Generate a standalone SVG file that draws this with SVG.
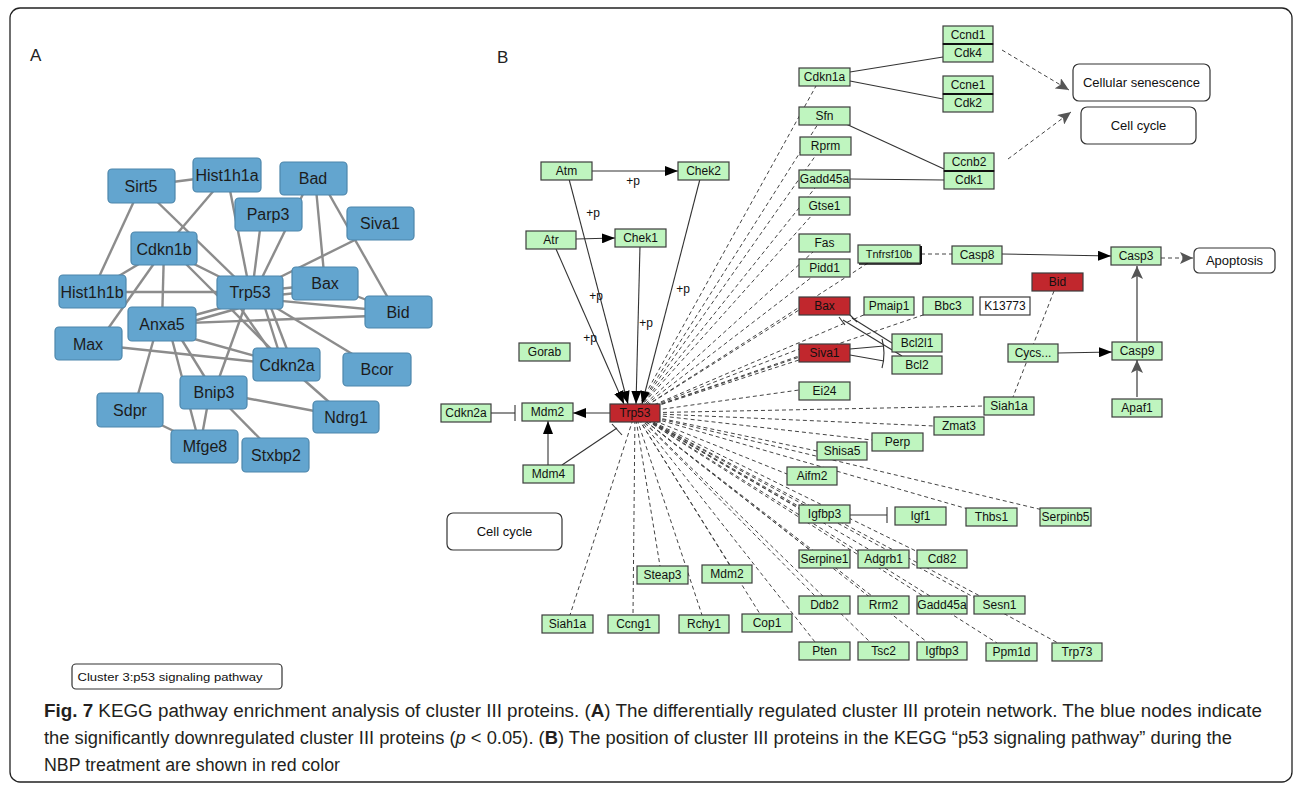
<svg xmlns="http://www.w3.org/2000/svg" width="1295" height="785" viewBox="0 0 1295 785">
<style>
.frame{fill:#fff;stroke:#222;stroke-width:1.3}
.pa rect{fill:#63a5cf;stroke:#4d86ab;stroke-width:1.2}
.pa text{font-family:"Liberation Sans",Arial,sans-serif;font-size:16px;fill:#1c1c1c;text-anchor:middle;dominant-baseline:central}
.ea line{stroke:#8c8c8c;stroke-width:2.4}
.n rect{fill:#bff5bf;stroke:#3c3c3c;stroke-width:1.2}
.n.red rect{fill:#c1272d}
.n.wh rect{fill:#fff}
.n text,.lbl{font-family:"Liberation Sans",Arial,sans-serif;font-size:12px;fill:#111;text-anchor:middle;dominant-baseline:central}
.box rect{fill:#fff;stroke:#333;stroke-width:1.2}
.box text{font-family:"Liberation Sans",Arial,sans-serif;font-size:13px;fill:#111;text-anchor:middle;dominant-baseline:central}
.d{stroke:#444;stroke-width:1;stroke-dasharray:4 3;fill:none}
.s{stroke:#333;stroke-width:1.1;fill:none}
.sg{stroke:#555;stroke-width:1.4;fill:none}
.cap{font-family:"Liberation Sans",Arial,sans-serif;font-size:18px;fill:#231f20}
</style>
<defs>
<marker id="ab" markerUnits="userSpaceOnUse" markerWidth="14" markerHeight="10" refX="13" refY="5" orient="auto"><path d="M0,0 L13,5 L0,10 z" fill="#000"/></marker>
<marker id="ag" markerUnits="userSpaceOnUse" markerWidth="14" markerHeight="12" refX="13" refY="6" orient="auto"><path d="M0,0 L13,6 L0,12 L3,6 z" fill="#555"/></marker>
</defs>
<rect class="frame" x="10" y="8" width="1282" height="774" rx="10"/>
<text x="30" y="61" font-family="Liberation Sans,Arial,sans-serif" font-size="17" fill="#222">A</text>
<text x="497" y="63" font-family="Liberation Sans,Arial,sans-serif" font-size="17" fill="#222">B</text>

<!-- Panel A edges -->
<g id="edges-A" class="ea">
<line x1="141" y1="186" x2="227" y2="175"/>
<line x1="141" y1="186" x2="92" y2="292"/>
<line x1="141" y1="186" x2="250" y2="292"/>
<line x1="227" y1="175" x2="164" y2="249"/>
<line x1="227" y1="175" x2="250" y2="292"/>
<line x1="305" y1="190" x2="255" y2="292"/>
<line x1="262" y1="214" x2="252" y2="292"/>
<line x1="315" y1="178" x2="325" y2="284"/>
<line x1="320" y1="178" x2="392" y2="305"/>
<line x1="375" y1="230" x2="250" y2="292"/>
<line x1="325" y1="284" x2="250" y2="292"/>
<line x1="325" y1="290" x2="250" y2="298"/>
<line x1="325" y1="284" x2="398" y2="312"/>
<line x1="250" y1="298" x2="398" y2="312"/>
<line x1="162" y1="324" x2="398" y2="315"/>
<line x1="164" y1="249" x2="92" y2="292"/>
<line x1="160" y1="255" x2="100" y2="340"/>
<line x1="164" y1="249" x2="162" y2="324"/>
<line x1="164" y1="249" x2="250" y2="292"/>
<line x1="180" y1="258" x2="287" y2="365"/>
<line x1="92" y1="292" x2="250" y2="292"/>
<line x1="162" y1="324" x2="250" y2="300"/>
<line x1="162" y1="330" x2="250" y2="305"/>
<line x1="88" y1="344" x2="287" y2="365"/>
<line x1="162" y1="330" x2="287" y2="365"/>
<line x1="158" y1="324" x2="135" y2="405"/>
<line x1="168" y1="324" x2="200" y2="446"/>
<line x1="172" y1="324" x2="214" y2="392"/>
<line x1="250" y1="292" x2="214" y2="392"/>
<line x1="260" y1="292" x2="283" y2="365"/>
<line x1="265" y1="292" x2="293" y2="365"/>
<line x1="235" y1="300" x2="280" y2="365"/>
<line x1="250" y1="292" x2="377" y2="369"/>
<line x1="287" y1="365" x2="346" y2="417"/>
<line x1="214" y1="392" x2="346" y2="417"/>
<line x1="210" y1="392" x2="200" y2="446"/>
<line x1="214" y1="392" x2="276" y2="455"/>
<line x1="130" y1="410" x2="205" y2="446"/>
</g>
<g class="pa">
<g id="a-sirt5"><rect x="108" y="169" width="67" height="34" rx="4"/><text x="141" y="186">Sirt5</text></g>
<g id="a-hist1h1a"><rect x="193" y="158" width="68" height="34" rx="4"/><text x="227" y="175">Hist1h1a</text></g>
<g id="a-bad"><rect x="280" y="162" width="67" height="33" rx="4"/><text x="313" y="178">Bad</text></g>
<g id="a-parp3"><rect x="235" y="198" width="67" height="33" rx="4"/><text x="268" y="214">Parp3</text></g>
<g id="a-siva1"><rect x="347" y="207" width="67" height="33" rx="4"/><text x="380" y="223">Siva1</text></g>
<g id="a-cdkn1b"><rect x="131" y="232" width="66" height="33" rx="4"/><text x="164" y="249">Cdkn1b</text></g>
<g id="a-hist1h1b"><rect x="59" y="275" width="67" height="33" rx="4"/><text x="92" y="292">Hist1h1b</text></g>
<g id="a-trp53"><rect x="217" y="276" width="66" height="33" rx="4"/><text x="250" y="292">Trp53</text></g>
<g id="a-bax"><rect x="292" y="267" width="66" height="33" rx="4"/><text x="325" y="283">Bax</text></g>
<g id="a-bid"><rect x="365" y="296" width="67" height="32" rx="4"/><text x="398" y="312">Bid</text></g>
<g id="a-anxa5"><rect x="128" y="307" width="68" height="34" rx="4"/><text x="162" y="324">Anxa5</text></g>
<g id="a-max"><rect x="55" y="327" width="67" height="33" rx="4"/><text x="88" y="344">Max</text></g>
<g id="a-cdkn2a"><rect x="253" y="348" width="67" height="33" rx="4"/><text x="287" y="365">Cdkn2a</text></g>
<g id="a-bcor"><rect x="343" y="353" width="68" height="33" rx="4"/><text x="377" y="369">Bcor</text></g>
<g id="a-bnip3"><rect x="180" y="376" width="67" height="33" rx="4"/><text x="214" y="392">Bnip3</text></g>
<g id="a-sdpr"><rect x="97" y="393" width="66" height="34" rx="4"/><text x="130" y="410">Sdpr</text></g>
<g id="a-ndrg1"><rect x="313" y="401" width="66" height="32" rx="4"/><text x="346" y="417">Ndrg1</text></g>
<g id="a-mfge8"><rect x="171" y="430" width="67" height="33" rx="4"/><text x="205" y="446">Mfge8</text></g>
<g id="a-stxbp2"><rect x="242" y="438" width="67" height="34" rx="4"/><text x="276" y="455">Stxbp2</text></g>
</g>

<!-- Panel B connectors -->
<g id="edges-B">
<g id="trp53-dashes">
<line class="d" x1="635" y1="413" x2="816" y2="86"/>
<line class="d" x1="635" y1="413" x2="818" y2="124"/>
<line class="d" x1="635" y1="413" x2="816" y2="155"/>
<line class="d" x1="635" y1="413" x2="815" y2="188"/>
<line class="d" x1="635" y1="413" x2="813" y2="214"/>
<line class="d" x1="635" y1="413" x2="813" y2="252"/>
<line class="d" x1="635" y1="413" x2="812" y2="277"/>
<line class="d" x1="635" y1="413" x2="868" y2="263"/>
<line class="d" x1="635" y1="413" x2="799" y2="310"/>
<line class="d" x1="635" y1="413" x2="866" y2="314"/>
<line class="d" x1="635" y1="413" x2="926" y2="314"/>
<line class="d" x1="635" y1="413" x2="799" y2="349"/>
<line class="d" x1="635" y1="413" x2="799" y2="356"/>
<line class="d" x1="635" y1="413" x2="799" y2="360"/>
<line class="d" x1="635" y1="413" x2="799" y2="390"/>
<line class="d" x1="635" y1="413" x2="984" y2="406"/>
<line class="d" x1="635" y1="413" x2="934" y2="426"/>
<line class="d" x1="635" y1="413" x2="872" y2="440"/>
<line class="d" x1="635" y1="413" x2="817" y2="451"/>
<line class="d" x1="635" y1="413" x2="787" y2="474"/>
<line class="d" x1="635" y1="413" x2="968" y2="509"/>
<line class="d" x1="635" y1="413" x2="1043" y2="510"/>
<line class="d" x1="635" y1="413" x2="800" y2="507"/>
<line class="d" x1="635" y1="413" x2="806" y2="512"/>
<line class="d" x1="635" y1="413" x2="810" y2="550"/>
<line class="d" x1="635" y1="413" x2="870" y2="550"/>
<line class="d" x1="635" y1="413" x2="920" y2="553"/>
<line class="d" x1="635" y1="413" x2="815" y2="596"/>
<line class="d" x1="635" y1="413" x2="872" y2="596"/>
<line class="d" x1="635" y1="413" x2="930" y2="596"/>
<line class="d" x1="635" y1="413" x2="980" y2="596"/>
<line class="d" x1="635" y1="413" x2="815" y2="642"/>
<line class="d" x1="635" y1="413" x2="870" y2="642"/>
<line class="d" x1="635" y1="413" x2="927" y2="642"/>
<line class="d" x1="635" y1="413" x2="997" y2="643"/>
<line class="d" x1="635" y1="413" x2="1058" y2="643"/>
<line class="d" x1="635" y1="413" x2="660" y2="566"/>
<line class="d" x1="635" y1="413" x2="730" y2="565"/>
<line class="d" x1="635" y1="413" x2="570" y2="615"/>
<line class="d" x1="635" y1="413" x2="633" y2="615"/>
<line class="d" x1="635" y1="413" x2="702" y2="615"/>
<line class="d" x1="635" y1="413" x2="760" y2="614"/>
</g>
<!-- upstream kinases -->
<line class="s" x1="592" y1="171" x2="678" y2="171" marker-end="url(#ab)"/>
<line class="s" x1="576" y1="239" x2="615" y2="238" marker-end="url(#ab)"/>
<line class="s" x1="569" y1="179" x2="628" y2="404" marker-end="url(#ab)"/>
<line class="s" x1="556" y1="249" x2="624" y2="404" marker-end="url(#ab)"/>
<line class="s" x1="640" y1="246" x2="636" y2="404" marker-end="url(#ab)"/>
<line class="s" x1="700" y1="179" x2="642" y2="404" marker-end="url(#ab)"/>
<!-- Mdm2 module -->
<line class="s" x1="610" y1="413" x2="573" y2="413" marker-end="url(#ab)"/>
<line class="s" x1="491" y1="413" x2="515" y2="413"/>
<line class="s" x1="515" y1="405" x2="515" y2="421" stroke-width="1.6"/>
<line class="s" x1="548" y1="465" x2="548" y2="421" marker-end="url(#ab)"/>
<line class="s" x1="562" y1="465" x2="617" y2="428"/>
<line class="s" x1="612" y1="424" x2="622" y2="435" stroke-width="1.6"/>
<!-- cell cycle complexes -->
<line class="s" x1="850" y1="72" x2="943" y2="57"/>
<line class="s" x1="850" y1="81" x2="943" y2="99"/>
<line class="s" x1="846" y1="124" x2="944" y2="169"/>
<line class="s" x1="850" y1="179" x2="944" y2="180"/>
<line class="d" x1="1002" y1="50" x2="1069" y2="90" stroke="#555" marker-end="url(#ag)"/>
<line class="d" x1="1008" y1="159" x2="1071" y2="112" stroke="#555" marker-end="url(#ag)"/>
<!-- apoptosis -->
<line class="d" x1="921" y1="254" x2="952" y2="254"/>
<line class="s" x1="1002" y1="254" x2="1111" y2="256" marker-end="url(#ab)"/>
<line class="d" x1="1161" y1="258" x2="1193" y2="258" stroke="#555" marker-end="url(#ag)"/>
<line class="sg" x1="1137" y1="341" x2="1137" y2="266" marker-end="url(#ag)"/>
<line class="sg" x1="1137" y1="397" x2="1137" y2="360" marker-end="url(#ag)"/>
<line class="s" x1="1058" y1="353" x2="1112" y2="352" marker-end="url(#ab)"/>
<line class="d" x1="1054" y1="291" x2="1013" y2="397"/>
<line class="s" x1="892" y1="343" x2="852" y2="318"/>
<line class="s" x1="902" y1="356" x2="843" y2="320"/>
<line class="s" x1="847" y1="312" x2="857" y2="322" stroke-width="1.5"/>
<line class="s" x1="839" y1="317" x2="845" y2="325" stroke-width="1.5"/>
<line class="s" x1="850" y1="349" x2="884" y2="346"/>
<line class="s" x1="850" y1="355" x2="884" y2="361"/>
<path class="s" d="M882,339 Q886,353 882,368" stroke-width="1.5"/>
<line class="s" x1="850" y1="515" x2="887" y2="515"/>
<line class="s" x1="887" y1="507" x2="887" y2="523" stroke-width="1.6"/>
</g>
<g id="plabels">
<text class="lbl" x="633" y="181">+p</text>
<text class="lbl" x="593" y="213">+p</text>
<text class="lbl" x="596" y="296">+p</text>
<text class="lbl" x="590" y="338">+p</text>
<text class="lbl" x="646" y="323">+p</text>
<text class="lbl" x="683" y="289">+p</text>
</g>

<!-- Panel B nodes -->
<g class="n" id="b-atm"><rect x="541" y="162" width="51" height="18"/><text x="566.5" y="171">Atm</text></g>
<g class="n" id="b-chek2"><rect x="678" y="162" width="51" height="18"/><text x="703.5" y="171">Chek2</text></g>
<g class="n" id="b-atr"><rect x="526" y="231" width="50" height="18"/><text x="551" y="240">Atr</text></g>
<g class="n" id="b-chek1"><rect x="615" y="229" width="51" height="18"/><text x="640.5" y="238">Chek1</text></g>
<g class="n" id="b-gorab"><rect x="519" y="343" width="51" height="18"/><text x="544.5" y="352">Gorab</text></g>
<g class="n" id="b-cdkn2a"><rect x="441" y="404" width="50" height="18"/><text x="466" y="413">Cdkn2a</text></g>
<g class="n" id="b-mdm2"><rect x="522" y="403" width="51" height="18"/><text x="547.5" y="412">Mdm2</text></g>
<g class="n red" id="b-trp53"><rect x="610" y="404" width="50" height="18"/><text x="635" y="413">Trp53</text></g>
<g class="n" id="b-mdm4"><rect x="523" y="465" width="51" height="18"/><text x="548.5" y="474">Mdm4</text></g>
<g class="n" id="b-ccnd1-cdk4"><rect x="943" y="26" width="50" height="18"/><text x="968" y="35">Ccnd1</text><rect x="943" y="44" width="50" height="18"/><text x="968" y="53">Cdk4</text><line x1="943" y1="44" x2="993" y2="44" stroke="#111" stroke-width="2"/></g>
<g class="n" id="b-ccne1-cdk2"><rect x="943" y="76" width="50" height="18"/><text x="968" y="85">Ccne1</text><rect x="943" y="94" width="50" height="18"/><text x="968" y="103">Cdk2</text><line x1="943" y1="94" x2="993" y2="94" stroke="#111" stroke-width="2"/></g>
<g class="n" id="b-ccnb2-cdk1"><rect x="944" y="153" width="50" height="18"/><text x="969" y="162">Ccnb2</text><rect x="944" y="171" width="50" height="18"/><text x="969" y="180">Cdk1</text><line x1="944" y1="171" x2="994" y2="171" stroke="#111" stroke-width="2"/></g>
<g class="n" id="b-cdkn1a"><rect x="799" y="68" width="51" height="18"/><text x="824.5" y="77">Cdkn1a</text></g>
<g class="n" id="b-sfn"><rect x="799" y="107" width="51" height="18"/><text x="824.5" y="116">Sfn</text></g>
<g class="n" id="b-rprm"><rect x="800" y="137" width="51" height="18"/><text x="825.5" y="146">Rprm</text></g>
<g class="n" id="b-gadd45a-1"><rect x="799" y="170" width="51" height="18"/><text x="824.5" y="179">Gadd45a</text></g>
<g class="n" id="b-gtse1"><rect x="799" y="197" width="51" height="18"/><text x="824.5" y="206">Gtse1</text></g>
<g class="n" id="b-fas"><rect x="799" y="234" width="51" height="18"/><text x="824.5" y="243">Fas</text></g>
<g class="n" id="b-pidd1"><rect x="799" y="259" width="51" height="18"/><text x="824.5" y="268">Pidd1</text></g>
<g class="n" id="b-tnfrsf10b"><rect x="858" y="245" width="62" height="18"/><line x1="921" y1="246" x2="921" y2="264" stroke="#111" stroke-width="2"/><line x1="859" y1="264" x2="921" y2="264" stroke="#111" stroke-width="1.5"/><text x="889" y="254" style="font-size:11px">Tnfrsf10b</text></g>
<g class="n" id="b-casp8"><rect x="952" y="246" width="50" height="18"/><text x="977" y="255">Casp8</text></g>
<g class="n" id="b-casp3"><rect x="1111" y="247" width="50" height="18"/><text x="1136" y="256">Casp3</text></g>
<g class="n red" id="b-bid"><rect x="1032" y="273" width="51" height="18"/><text x="1057.5" y="282">Bid</text></g>
<g class="n red" id="b-bax"><rect x="799" y="297" width="51" height="18"/><text x="824.5" y="306">Bax</text></g>
<g class="n" id="b-pmaip1"><rect x="864" y="297" width="50" height="18"/><text x="889" y="306">Pmaip1</text></g>
<g class="n" id="b-bbc3"><rect x="923" y="297" width="50" height="18"/><text x="948" y="306">Bbc3</text></g>
<g class="n wh" id="b-k13773"><rect x="980" y="297" width="50" height="18"/><text x="1005" y="306">K13773</text></g>
<g class="n" id="b-bcl2l1"><rect x="892" y="334" width="50" height="18"/><text x="917" y="343">Bcl2l1</text></g>
<g class="n" id="b-bcl2"><rect x="892" y="356" width="50" height="18"/><text x="917" y="365">Bcl2</text></g>
<g class="n red" id="b-siva1"><rect x="799" y="344" width="51" height="18"/><text x="824.5" y="353">Siva1</text></g>
<g class="n" id="b-cycs"><rect x="1008" y="344" width="50" height="18"/><text x="1033" y="353">Cycs...</text></g>
<g class="n" id="b-casp9"><rect x="1112" y="342" width="50" height="18"/><text x="1137" y="351">Casp9</text></g>
<g class="n" id="b-ei24"><rect x="799" y="382" width="51" height="18"/><text x="824.5" y="391">Ei24</text></g>
<g class="n" id="b-siah1a-1"><rect x="984" y="397" width="50" height="18"/><text x="1009" y="406">Siah1a</text></g>
<g class="n" id="b-apaf1"><rect x="1112" y="399" width="50" height="18"/><text x="1137" y="408">Apaf1</text></g>
<g class="n" id="b-zmat3"><rect x="934" y="417" width="50" height="18"/><text x="959" y="426">Zmat3</text></g>
<g class="n" id="b-perp"><rect x="872" y="433" width="51" height="18"/><text x="897.5" y="442">Perp</text></g>
<g class="n" id="b-shisa5"><rect x="817" y="442" width="50" height="18"/><text x="842" y="451">Shisa5</text></g>
<g class="n" id="b-aifm2"><rect x="787" y="467" width="50" height="18"/><text x="812" y="476">Aifm2</text></g>
<g class="n" id="b-igfbp3-1"><rect x="799" y="505" width="51" height="18"/><text x="824.5" y="514">Igfbp3</text></g>
<g class="n" id="b-igf1"><rect x="895" y="507" width="51" height="18"/><text x="920.5" y="516">Igf1</text></g>
<g class="n" id="b-thbs1"><rect x="966" y="508" width="51" height="18"/><text x="991.5" y="517">Thbs1</text></g>
<g class="n" id="b-serpinb5"><rect x="1040" y="508" width="51" height="18"/><text x="1065.5" y="517">Serpinb5</text></g>
<g class="n" id="b-serpine1"><rect x="799" y="550" width="51" height="18"/><text x="824.5" y="559">Serpine1</text></g>
<g class="n" id="b-adgrb1"><rect x="858" y="550" width="51" height="18"/><text x="883.5" y="559">Adgrb1</text></g>
<g class="n" id="b-cd82"><rect x="917" y="550" width="50" height="18"/><text x="942" y="559">Cd82</text></g>
<g class="n" id="b-ddb2"><rect x="799" y="596" width="51" height="18"/><text x="824.5" y="605">Ddb2</text></g>
<g class="n" id="b-rrm2"><rect x="858" y="596" width="51" height="18"/><text x="883.5" y="605">Rrm2</text></g>
<g class="n" id="b-gadd45a-2"><rect x="917" y="596" width="50" height="18"/><text x="942" y="605">Gadd45a</text></g>
<g class="n" id="b-sesn1"><rect x="974" y="596" width="51" height="18"/><text x="999.5" y="605">Sesn1</text></g>
<g class="n" id="b-pten"><rect x="799" y="642" width="51" height="18"/><text x="824.5" y="651">Pten</text></g>
<g class="n" id="b-tsc2"><rect x="858" y="642" width="51" height="18"/><text x="883.5" y="651">Tsc2</text></g>
<g class="n" id="b-igfbp3-2"><rect x="917" y="642" width="50" height="18"/><text x="942" y="651">Igfbp3</text></g>
<g class="n" id="b-ppm1d"><rect x="986" y="643" width="51" height="18"/><text x="1011.5" y="652">Ppm1d</text></g>
<g class="n" id="b-trp73"><rect x="1052" y="643" width="50" height="18"/><text x="1077" y="652">Trp73</text></g>
<g class="n" id="b-steap3"><rect x="637" y="566" width="51" height="18"/><text x="662.5" y="575">Steap3</text></g>
<g class="n" id="b-mdm2-2"><rect x="702" y="565" width="50" height="18"/><text x="727" y="574">Mdm2</text></g>
<g class="n" id="b-siah1a-2"><rect x="542" y="615" width="51" height="18"/><text x="567.5" y="624">Siah1a</text></g>
<g class="n" id="b-ccng1"><rect x="608" y="615" width="51" height="18"/><text x="633.5" y="624">Ccng1</text></g>
<g class="n" id="b-rchy1"><rect x="679" y="615" width="50" height="18"/><text x="704" y="624">Rchy1</text></g>
<g class="n" id="b-cop1"><rect x="742" y="614" width="50" height="18"/><text x="767" y="623">Cop1</text></g>

<g class="box" id="b-senescence"><rect x="1073" y="64" width="137" height="37" rx="6"/><text x="1141.5" y="82.5">Cellular senescence</text></g>
<g class="box" id="b-cellcycle-r"><rect x="1081" y="107" width="115" height="37" rx="6"/><text x="1138.5" y="125.5">Cell cycle</text></g>
<g class="box" id="b-apoptosis"><rect x="1194" y="248" width="81" height="25" rx="5"/><text x="1234.5" y="260.5">Apoptosis</text></g>
<g class="box" id="b-cellcycle-l"><rect x="447" y="513" width="115" height="37" rx="6"/><text x="504.5" y="531.5">Cell cycle</text></g>
<g class="box" id="b-title"><rect x="72" y="664" width="210" height="25" rx="4"/><text x="170" y="676.5" style="font-size:11px" textLength="185" lengthAdjust="spacingAndGlyphs">Cluster 3:p53 signaling pathway</text></g>

<g id="caption" class="cap">
<text x="44" y="717" textLength="1218" lengthAdjust="spacingAndGlyphs"><tspan font-weight="bold">Fig. 7</tspan>  KEGG pathway enrichment analysis of cluster III proteins. (<tspan font-weight="bold">A</tspan>) The differentially regulated cluster III protein network. The blue nodes indicate</text>
<text x="44" y="744" textLength="1188" lengthAdjust="spacingAndGlyphs">the significantly downregulated cluster III proteins (<tspan font-style="italic">p</tspan> &lt; 0.05). (<tspan font-weight="bold">B</tspan>) The position of cluster III proteins in the KEGG “p53 signaling pathway” during the</text>
<text x="44" y="771" textLength="296" lengthAdjust="spacingAndGlyphs">NBP treatment are shown in red color</text>
</g>
</svg>
